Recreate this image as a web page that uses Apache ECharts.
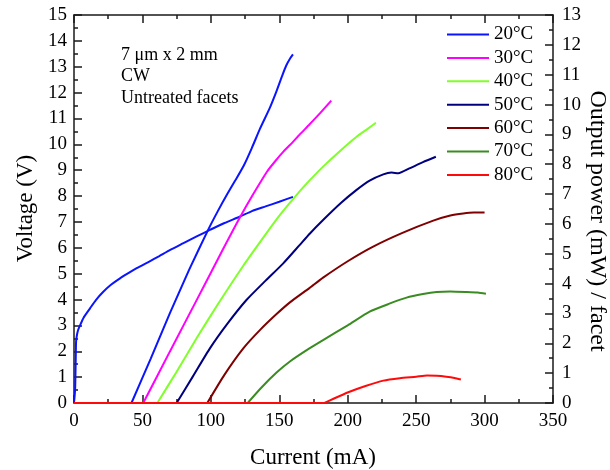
<!DOCTYPE html>
<html>
<head>
<meta charset="utf-8">
<script src="https://cdn.jsdelivr.net/npm/echarts@6/dist/echarts.min.js"></script>
<style>
html,body{margin:0;padding:0;background:#fff;}
#chart{width:610px;height:470px;}
</style>
</head>
<body>
<div id="chart"></div>
<script>
// ---- data (current in mA) ----
const legendNames = ['20°C', '30°C', '40°C', '50°C', '60°C', '70°C', '80°C'];
const annotationLines = ['7 μm x 2 mm', 'CW', 'Untreated facets'];
const xTitle = 'Current (mA)';
const yLeftTitle = 'Voltage (V)';
const yRightTitle = 'Output power (mW) / facet';

// Voltage vs current at 20°C (left axis)
const voltage20 = [[0,0],[0.8,0.5],[1.2,1.5],[1.5,2.35],[2,2.58],[3,2.82],[4.4,3.0],[7,3.3],[11.7,3.66],[16,3.98],[21.4,4.3],[27,4.57],[33.6,4.82],[40,5.03],[45.8,5.21],[55,5.47],[62,5.67],[70,5.91],[80,6.18],[90,6.45],[99.3,6.69],[110,6.96],[121,7.2],[130,7.42],[140,7.6],[150,7.78],[160,7.97]];

// Output power per facet (right axis); first two points = flat region below threshold
const power20 = [[0,0],[42,0],[56,1.48],[70,3.0],[84,4.45],[98,5.8],[105,6.42],[112,7.0],[118,7.47],[124,7.95],[130,8.55],[136,9.2],[143,9.88],[148,10.45],[152,10.95],[155,11.3],[158,11.55],[160,11.68]];
const power30 = [[0,0],[50.6,0],[70,1.72],[90,3.48],[110,5.25],[121,6.2],[131,7.0],[141,7.75],[147,8.1],[153,8.42],[160,8.75],[165,9.0],[172,9.33],[180,9.72],[188,10.13]];
const power40 = [[0,0],[60.9,0],[75,1.05],[90,2.2],[105,3.3],[123.7,4.6],[140,5.65],[150.5,6.3],[158,6.72],[165,7.1],[172,7.45],[182,7.92],[195,8.47],[206.5,8.92],[215,9.2],[220.6,9.39]];
const power50 = [[0,0],[75,0],[87,0.9],[99.3,1.83],[112,2.65],[126,3.45],[140,4.1],[152.9,4.68],[165,5.3],[172.4,5.68],[182,6.13],[195,6.7],[206.5,7.14],[216,7.45],[226,7.66],[232,7.72],[237,7.7],[245,7.86],[255,8.07],[264.4,8.25]];
const power60 = [[0,0],[97.4,0],[110,0.95],[123.7,1.83],[136,2.45],[148,2.98],[158,3.38],[172,3.85],[182,4.2],[200,4.75],[218.6,5.24],[240,5.7],[262.5,6.11],[275,6.28],[284.4,6.35],[292,6.38],[300,6.38]];
const power70 = [[0,0],[126.9,0],[137,0.52],[148,1.02],[158,1.4],[172,1.83],[182,2.11],[200,2.6],[216,3.06],[230,3.32],[243,3.53],[255,3.65],[265,3.72],[275,3.74],[287,3.72],[295,3.7],[301,3.66]];
const power80 = [[0,0],[183,0],[190,0.15],[200.4,0.36],[213,0.57],[226,0.75],[238,0.83],[250,0.88],[258,0.92],[265,0.91],[272,0.88],[278,0.84],[282.7,0.79]];

const powerSets = [power20, power30, power40, power50, power60, power70, power80];
const colors = ['#0A14FF', '#FF00FF', '#80FF2A', '#00007F', '#7F0000', '#3A8C22', '#FF0A0A'];

const FONT = 'Liberation Serif';
const AX = '#1a1a1a';

function xAx(pos, showLabel) {
  return {
    type: 'value', position: pos, min: 0, max: 350, interval: 50,
    axisLine: {show: true, onZero: false, lineStyle: {color: AX, width: 1.5}},
    axisTick: {show: true, inside: true, length: 8, lineStyle: {color: AX, width: 1.5}},
    minorTick: {show: true, splitNumber: 2, length: 4, lineStyle: {color: AX, width: 1.5}},
    axisLabel: {show: showLabel, fontFamily: FONT, fontSize: 19, color: '#000', margin: 9},
    splitLine: {show: false}
  };
}
function yAx(pos, max, margin) {
  return {
    type: 'value', position: pos, min: 0, max: max, interval: 1,
    axisLine: {show: true, onZero: false, lineStyle: {color: AX, width: 1.5}},
    axisTick: {show: true, inside: true, length: 8, lineStyle: {color: AX, width: 1.5}},
    minorTick: {show: true, splitNumber: 2, length: 4, lineStyle: {color: AX, width: 1.5}},
    axisLabel: {fontFamily: FONT, fontSize: 19, color: '#000', margin: margin},
    splitLine: {show: false}
  };
}

const series = [{
  name: 'V 20°C', type: 'line', xAxisIndex: 0, yAxisIndex: 0, data: voltage20,
  symbol: 'none', smooth: 0.2,
  lineStyle: {color: colors[0], width: 2}, itemStyle: {color: colors[0]}, z: 3
}];
powerSets.forEach(function (d, i) {
  // flat part below threshold
  series.push({
    name: legendNames[i], type: 'line', xAxisIndex: 0, yAxisIndex: 1, data: d.slice(0, 2),
    symbol: 'none', lineStyle: {color: colors[i], width: 2}, itemStyle: {color: colors[i]}, z: 3 + i
  });
  // lasing part above threshold
  series.push({
    name: legendNames[i], type: 'line', xAxisIndex: 0, yAxisIndex: 1, data: d.slice(1),
    symbol: 'none', smooth: 0.2,
    lineStyle: {color: colors[i], width: 2}, itemStyle: {color: colors[i]}, z: 3 + i
  });
});

const chart = echarts.init(document.getElementById('chart'), null, {renderer: 'canvas'});
chart.setOption({
  animation: false,
  backgroundColor: '#fff',
  grid: {left: 74, right: 57, top: 15, bottom: 67, containLabel: false},
  xAxis: [xAx('bottom', true), xAx('top', false)],
  yAxis: [yAx('left', 15, 7), yAx('right', 13, 9)],
  legend: {
    data: legendNames, orient: 'vertical', left: 442, top: 20,
    icon: 'rect', itemWidth: 42, itemHeight: 2, itemGap: 4.4,
    textStyle: {fontFamily: FONT, fontSize: 19, lineHeight: 18, color: '#000'}
  },
  graphic: [
    {type: 'text', left: 121, top: 44, style: {text: annotationLines.join('\n'), font: '18px "Liberation Serif"', fill: '#000', lineHeight: 21.7}},
    {type: 'text', x: 313, y: 458, style: {text: xTitle, font: '23px "Liberation Serif"', fill: '#000', textAlign: 'center', textVerticalAlign: 'middle'}},
    {type: 'text', x: 26.3, y: 208.5, rotation: Math.PI / 2, style: {text: yLeftTitle, font: '23px "Liberation Serif"', fill: '#000', textAlign: 'center', textVerticalAlign: 'middle'}},
    {type: 'text', x: 597, y: 221, rotation: -Math.PI / 2, style: {text: yRightTitle, font: '24px "Liberation Serif"', fill: '#000', textAlign: 'center', textVerticalAlign: 'middle'}}
  ],
  series: series
});
</script>
</body>
</html>
